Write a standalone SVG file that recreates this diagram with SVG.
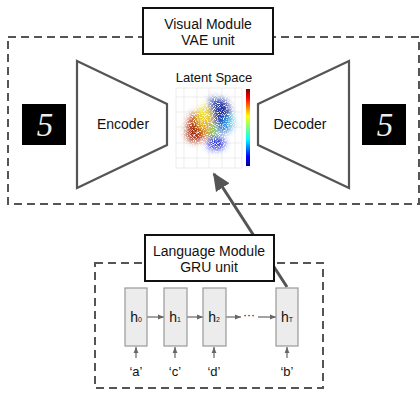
<svg xmlns="http://www.w3.org/2000/svg" width="420" height="393" viewBox="0 0 420 393">
<defs>
<style>
.dash{fill:none;stroke:#555;stroke-width:2;stroke-dasharray:8 5}
.label{fill:#fff;stroke:#111;stroke-width:2}
.t{font-family:"Liberation Sans",Arial,sans-serif;fill:#111;text-anchor:middle}
.trap{fill:#fff;stroke:#555;stroke-width:2.2}
.cell{fill:#ececec;stroke:#999;stroke-width:1.2}
.small{fill:none;stroke:#666;stroke-width:1.2}
.grid{stroke:#e2e2e2;stroke-width:0.6}
.digit{font-family:"Liberation Serif",serif;font-style:italic;font-size:33px;fill:#eee;text-anchor:middle}
</style>
<marker id="sa" viewBox="0 0 10 10" refX="10" refY="5" markerWidth="6" markerHeight="6" markerUnits="userSpaceOnUse" orient="auto"><path d="M0,1 L10,5 L0,9 z" fill="#666"/></marker>
<marker id="big" viewBox="0 0 10 10" refX="9" refY="5" markerWidth="6" markerHeight="6" orient="auto"><path d="M0,0.5 L10,5 L0,9.5 z" fill="#555"/></marker>
<linearGradient id="jet" x1="0" y1="0" x2="0" y2="1">
<stop offset="0" stop-color="#800000"/><stop offset="0.12" stop-color="#ff0000"/><stop offset="0.35" stop-color="#ffff00"/><stop offset="0.5" stop-color="#7fff7f"/><stop offset="0.65" stop-color="#00ffff"/><stop offset="0.88" stop-color="#0000ff"/><stop offset="1" stop-color="#00008f"/>
</linearGradient>
<filter id="speck" filterUnits="userSpaceOnUse" x="176" y="88" width="66" height="80">
<feGaussianBlur in="SourceGraphic" stdDeviation="3.2" result="b"/>
<feTurbulence type="fractalNoise" baseFrequency="1.1" numOctaves="1" seed="7" result="n"/>
<feColorMatrix in="n" type="matrix" values="0 0 0 0 0  0 0 0 0 0  0 0 0 0 0  5 0 0 0 -1.6" result="m"/>
<feComposite in="b" in2="m" operator="in"/>
</filter>
</defs>

<g id="visual-module">
<rect class="dash" x="8" y="37" width="411" height="167"/>
<rect class="label" x="143" y="8" width="130" height="46"/>
<text class="t" x="208" y="29" font-size="14">Visual Module</text>
<text class="t" x="208" y="45" font-size="14">VAE unit</text>
</g>

<g id="input-digit">
<rect x="22" y="104" width="44" height="41" fill="#000"/>
<text class="digit" x="45" y="136">5</text>
</g>

<g id="encoder">
<polygon class="trap" points="77,61 167,104 167,145 77,188"/>
<text class="t" x="123" y="129" font-size="14">Encoder</text>
</g>

<g id="latent-space">
<text class="t" x="214" y="82" font-size="13">Latent Space</text>
<rect x="176" y="88" width="66" height="80" fill="#fff" stroke="#ddd" stroke-width="0.6"/>
<g class="grid">
<line x1="176" y1="97" x2="242" y2="97"/><line x1="176" y1="112" x2="242" y2="112"/><line x1="176" y1="127" x2="242" y2="127"/><line x1="176" y1="143" x2="242" y2="143"/><line x1="176" y1="158" x2="242" y2="158"/>
<line x1="184" y1="88" x2="184" y2="168"/><line x1="197" y1="88" x2="197" y2="168"/><line x1="209" y1="88" x2="209" y2="168"/><line x1="222" y1="88" x2="222" y2="168"/><line x1="235" y1="88" x2="235" y2="168"/>
</g>
<g filter="url(#speck)">
<ellipse cx="197" cy="127" rx="10" ry="15" fill="#c0401a"/>
<ellipse cx="193" cy="133" rx="7" ry="9" fill="#a0280f"/>
<ellipse cx="205" cy="117" rx="8" ry="12" fill="#f2e030"/>
<ellipse cx="208" cy="129" rx="5" ry="10" fill="#f29a20"/>
<ellipse cx="213" cy="132" rx="5" ry="9" fill="#8fd050"/>
<ellipse cx="221" cy="113" rx="9" ry="14" fill="#1a2aa0"/>
<ellipse cx="224" cy="126" rx="7" ry="7" fill="#2a70e0"/>
<ellipse cx="230" cy="122" rx="4" ry="6" fill="#40c8e8"/>
<ellipse cx="216" cy="143" rx="9" ry="7" fill="#2a30e0"/>
<ellipse cx="213" cy="104" rx="4" ry="7" fill="#3050c0"/>
</g>
<rect x="246" y="89" width="4" height="77" fill="url(#jet)"/>
</g>

<g id="decoder">
<polygon class="trap" points="258,104 349,61 349,188 258,145"/>
<text class="t" x="300" y="129" font-size="14">Decoder</text>
</g>

<g id="output-digit">
<rect x="362" y="104" width="44" height="41" fill="#000"/>
<text class="digit" x="385" y="136">5</text>
</g>

<g id="language-frame">
<rect class="dash" x="95" y="263" width="228" height="125"/>
</g>

<g id="connectors">
<line x1="287" y1="287" x2="214" y2="174" stroke="#555" stroke-width="3" marker-end="url(#big)"/>
<line class="small" x1="147" y1="317" x2="164" y2="317" marker-end="url(#sa)"/>
<line class="small" x1="187" y1="317" x2="203" y2="317" marker-end="url(#sa)"/>
<line class="small" x1="226" y1="317" x2="241" y2="317" marker-end="url(#sa)"/>
<line class="small" x1="258" y1="317" x2="276" y2="317" marker-end="url(#sa)"/>
<line class="small" x1="136" y1="358" x2="136" y2="347" marker-end="url(#sa)"/>
<line class="small" x1="175" y1="358" x2="175" y2="347" marker-end="url(#sa)"/>
<line class="small" x1="214" y1="358" x2="214" y2="347" marker-end="url(#sa)"/>
<line class="small" x1="287" y1="358" x2="287" y2="347" marker-end="url(#sa)"/>
</g>

<g id="language-module">
<rect class="label" x="145" y="235" width="129" height="46"/>
<text class="t" x="209" y="256" font-size="14">Language Module</text>
<text class="t" x="209" y="272" font-size="14">GRU unit</text>
</g>

<g id="h0"><rect class="cell" x="125" y="288" width="22" height="58"/><text class="t" x="136" y="322" font-size="14">h<tspan font-size="7">0</tspan></text></g>
<g id="h1"><rect class="cell" x="164" y="288" width="23" height="58"/><text class="t" x="175" y="322" font-size="14">h<tspan font-size="7">1</tspan></text></g>
<g id="h2"><rect class="cell" x="203" y="288" width="23" height="58"/><text class="t" x="214" y="322" font-size="14">h<tspan font-size="7">2</tspan></text></g>
<g id="dots"><text class="t" x="249" y="319" font-size="12" fill="#555">···</text></g>
<g id="hT"><rect class="cell" x="276" y="288" width="22" height="58"/><text class="t" x="287" y="322" font-size="14">h<tspan font-size="7">T</tspan></text></g>

<g id="inputs">
<text class="t" x="136" y="376" font-size="13">‘a’</text>
<text class="t" x="175" y="376" font-size="13">‘c’</text>
<text class="t" x="214" y="376" font-size="13">‘d’</text>
<text class="t" x="287" y="376" font-size="13">‘b’</text>
</g>
</svg>
